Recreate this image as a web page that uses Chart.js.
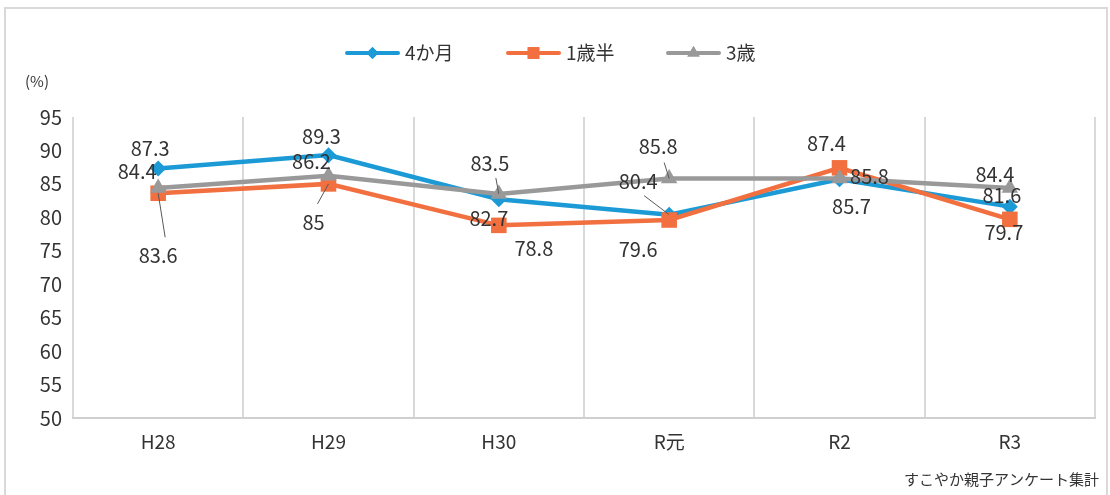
<!DOCTYPE html>
<html>
<head>
<meta charset="utf-8">
<script src="https://cdn.jsdelivr.net/npm/chart.js@4.4.1/dist/chart.umd.min.js"></script>
<style>
  html, body { margin: 0; padding: 0; background: #fff; }
  #wrap { width: 1110px; height: 495px; position: relative; }
</style>
</head>
<body>
<div id="wrap"><canvas id="chart" width="1110" height="495"></canvas></div>
<script>
// categories and values
const years = ['H28', 'H29', 'H30', 'R元', 'R2', 'R3'];
const seriesNames = ['4か月', '1歳半', '3歳'];
const months4 = [87.3, 89.3, 82.7, 80.4, 85.7, 81.6];
const age1half = [83.6, 85, 78.8, 79.6, 87.4, 79.7];
const age3 = [84.4, 86.2, 83.5, 85.8, 85.8, 84.4];
const yTicks = [50, 55, 60, 65, 70, 75, 80, 85, 90, 95];

// data label placement (pixel offsets from point)
const labelOffsets = [
    [[-8, -20], [-7, -19], [-10, 19], [-31, -33], [12, 27], [-8, -11]],
    [[0, 62], [-15, 39], [35, 23], [-31, 29], [-13, -24], [-6, 13]],
    [[-21, -16], [-17, -14], [-9, -31], [-11, -32], [30, -2], [-15, -13]]
];
// leader line start, relative to the label centre (null = no leader)
const leaders = [
    [null, null, null, [6, 14], null, null],
    [[7, -18], [4, -19], null, null, null, null],
    [null, null, [6, 15], [6, 16], null, null]
];

const FONT = '"Noto Sans CJK JP", "Noto Sans", sans-serif';
const colors = ['#1b9ad6', '#f26f3f', '#999999'];
const markers = ['rectRot', 'rect', 'triangle'];
const markerSizes = [8, 11, 9.5];

// frame, legend, unit text, source note
const decorPlugin = {
    id: 'decor',
    beforeDraw(chart) {
        const ctx = chart.ctx;
        ctx.save();
        ctx.strokeStyle = '#d9d9d9';
        ctx.lineWidth = 2;
        ctx.beginPath();
        ctx.moveTo(5, 500);
        ctx.lineTo(5, 8);
        ctx.lineTo(1107, 8);
        ctx.lineTo(1107, 500);
        ctx.stroke();
        ctx.restore();
    },
    afterDraw(chart) {
        const ctx = chart.ctx;
        ctx.save();
        // legend
        const legendX = [347, 508, 668];
        const legendY = 53;
        seriesNames.forEach((name, i) => {
            const x = legendX[i];
            ctx.strokeStyle = colors[i];
            ctx.lineWidth = 4;
            ctx.lineCap = 'round';
            ctx.beginPath();
            ctx.moveTo(x, legendY);
            ctx.lineTo(x + 51, legendY);
            ctx.stroke();
            ctx.fillStyle = colors[i];
            Chart.helpers.drawPoint(ctx, {
                pointStyle: markers[i], radius: markerSizes[i] * 0.75, borderWidth: 0
            }, x + 25.5, legendY);
            ctx.fill();
            ctx.fillStyle = '#333';
            ctx.font = '19px ' + FONT;
            ctx.textAlign = 'left';
            ctx.textBaseline = 'middle';
            ctx.fillText(name, x + 58, legendY);
        });
        // unit
        ctx.font = '15px ' + FONT;
        ctx.textAlign = 'center';
        ctx.fillText('(%)', 37, 81);
        // source
        ctx.textAlign = 'right';
        ctx.font = '15px ' + FONT;
        ctx.fillText('すこやか親子アンケート集計', 1099, 479);
        ctx.restore();
    }
};

// data labels with leader lines
const labelPlugin = {
    id: 'labels',
    afterDatasetsDraw(chart) {
        const ctx = chart.ctx;
        ctx.save();
        ctx.font = '20px ' + FONT;
        ctx.textAlign = 'center';
        ctx.textBaseline = 'middle';
        chart.data.datasets.forEach((ds, di) => {
            const meta = chart.getDatasetMeta(di);
            meta.data.forEach((pt, i) => {
                const [dx, dy] = labelOffsets[di][i];
                const lx = pt.x + dx;
                const ly = pt.y + dy;
                const lead = leaders[di][i];
                if (lead) {
                    ctx.strokeStyle = '#595959';
                    ctx.lineWidth = 1;
                    ctx.beginPath();
                    ctx.moveTo(lx + lead[0], ly + lead[1]);
                    ctx.lineTo(pt.x, pt.y);
                    ctx.stroke();
                }
                ctx.fillStyle = '#333';
                ctx.fillText(String(ds.data[i]), lx, ly);
            });
        });
        ctx.restore();
    }
};

const seriesData = [months4, age1half, age3];

new Chart(document.getElementById('chart'), {
    type: 'line',
    data: {
        labels: years,
        datasets: seriesNames.map((name, i) => ({
            label: name,
            data: seriesData[i],
            borderColor: colors[i],
            backgroundColor: colors[i],
            borderWidth: 4.5,
            tension: 0,
            pointStyle: markers[i],
            pointRadius: markerSizes[i],
            pointHoverRadius: markerSizes[i],
            pointBorderWidth: 0,
            order: 3 - i
        }))
    },
    options: {
        responsive: false,
        animation: false,
        events: [],
        layout: { padding: { top: 117, right: 15, left: 0, bottom: 0 } },
        plugins: {
            legend: { display: false },
            tooltip: { enabled: false }
        },
        scales: {
            x: {
                offset: true,
                grid: { display: true, color: '#d9d9d9', lineWidth: 2, offset: true, drawTicks: false },
                border: { display: true, color: '#d0d0d0', width: 2 },
                ticks: { color: '#333', font: { family: FONT, size: 19 }, padding: 12 },
                afterFit(scale) { scale.height = 77; }
            },
            y: {
                min: 50,
                max: 95,
                afterBuildTicks(scale) { scale.ticks = yTicks.map(v => ({ value: v })); },
                grid: { display: false, drawTicks: false },
                border: { display: false },
                ticks: { color: '#333', font: { family: FONT, size: 20 }, padding: 11 },
                afterFit(scale) { scale.width = 73; }
            }
        }
    },
    plugins: [decorPlugin, labelPlugin]
});
</script>
</body>
</html>
